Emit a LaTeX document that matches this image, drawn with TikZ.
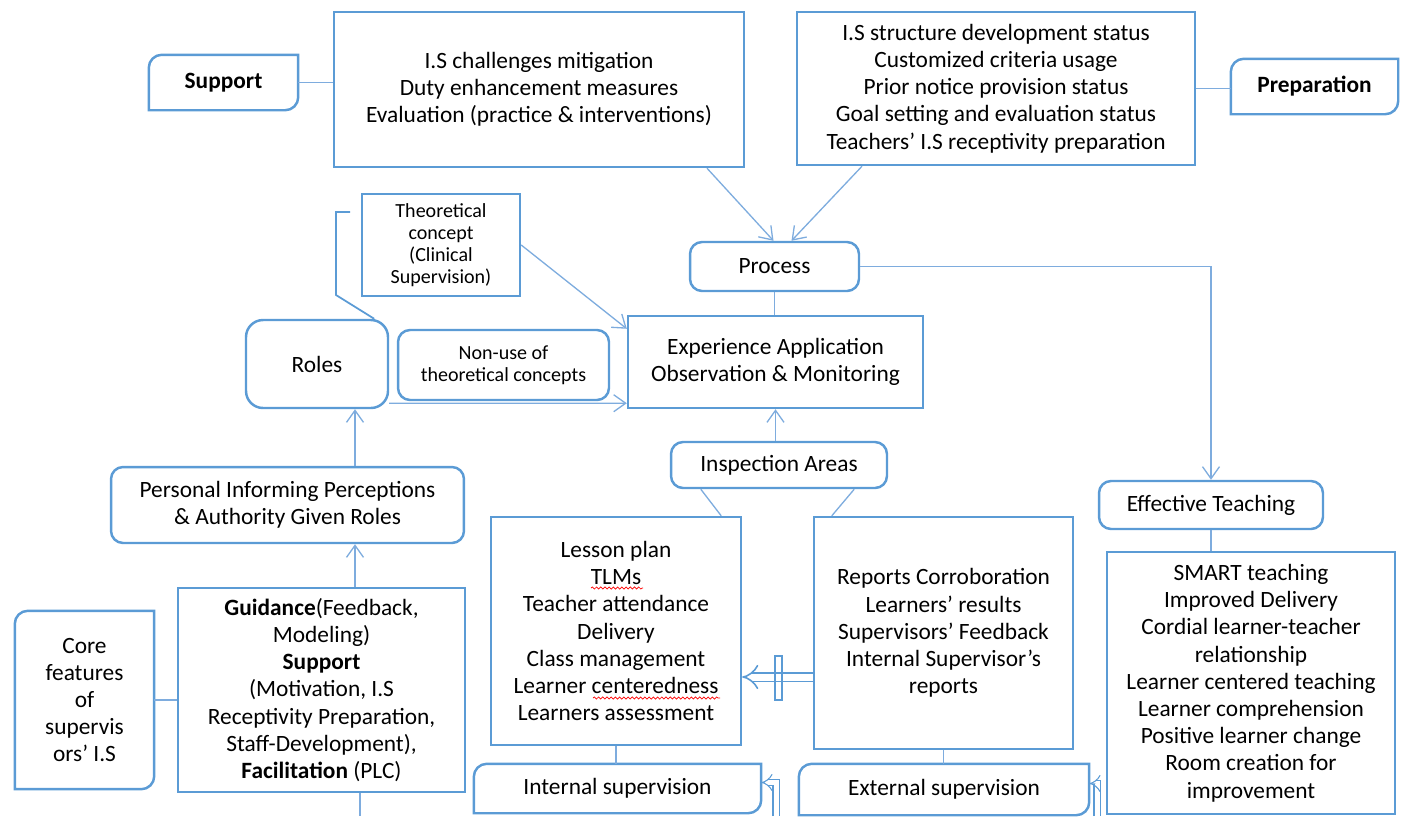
\documentclass[tikz,border=0pt]{standalone}
\usepackage{fontspec}
\setmainfont{Carlito}
\usetikzlibrary{arrows.meta,calc,decorations.pathmorphing}

\definecolor{wordblue}{RGB}{91,155,213}
\definecolor{linkblue}{RGB}{126,172,222}

\tikzset{
    sqbox/.style={draw=wordblue, line width=1.4pt, align=center, inner sep=0pt,
        font=\fontsize{13.3}{15.5}\selectfont},
    rbox/.style={sqbox, rounded corners=0.24cm},
    dbox/.style={sqbox, draw=none},
    small/.style={font=\fontsize{11.4}{12.6}\selectfont},
    frame/.style={draw=wordblue, line width=1.4pt},
    link/.style={draw=linkblue, line width=0.75pt},
    arr/.style={link, -{Straight Barb[length=0.24cm,width=0.34cm]}},
    hollow/.style={draw=wordblue, line width=0.6pt, double=white,
        double distance=0.1cm, -{Implies}},
    spell/.style={draw=red, line width=0.4pt, decorate,
        decoration={snake, amplitude=0.6pt, segment length=2.4pt}}
}

\begin{document}
\begin{tikzpicture}[x=0.02cm, y=-0.02cm]
\newdimen\Rnd
\Rnd=0.26cm
    \useasboundingbox (0,0) rectangle (1403,816);

    % top row
    \node[dbox, minimum width=2.94cm, minimum height=1.06cm, font=\fontsize{13.3}{15.5}\selectfont\bfseries]
        (support) at (223.5,82.5) {Support};
    \node[sqbox, minimum width=8.2cm, minimum height=3.1cm] (mitig) at (539,89.5)
        {I.S challenges mitigation\\ Duty enhancement measures\\ Evaluation (practice \& interventions)};
    \node[sqbox, minimum width=7.96cm, minimum height=3.06cm] (struct) at (996,88.5)
        {I.S structure development status\\ Customized criteria usage\\ Prior notice provision status\\
         Goal setting and evaluation status\\ Teachers’ I.S receptivity preparation};
    \node[dbox, minimum width=3.3cm, minimum height=1.06cm, font=\fontsize{13.3}{15.5}\selectfont\bfseries]
        (prep) at (1314.5,86.5) {Preparation};

    % middle
    \node[rbox, minimum width=3.38cm, minimum height=0.98cm] (process) at (774.5,266.5) {Process};
    \node[sqbox, small, minimum width=3.16cm, minimum height=2.04cm] (theory) at (441,245)
        {Theoretical\\ concept\\ (Clinical\\ Supervision)};
    \node[rbox, rounded corners=0.34cm, minimum width=2.84cm, minimum height=1.76cm] (roles) at (317,364) {Roles};
    \node[rbox, small, minimum width=4.22cm, minimum height=1.4cm] (nonuse) at (503.5,365)
        {Non-use of\\ theoretical concepts};
    \node[sqbox, minimum width=5.9cm, minimum height=1.84cm] (exper) at (775.5,362)
        {Experience Application\\ Observation \& Monitoring};
    \node[rbox, minimum width=4.32cm, minimum height=0.92cm] (inspect) at (779,465) {Inspection Areas};

    % inspection areas
    \node[sqbox, minimum width=5.0cm, minimum height=4.56cm] (lesson) at (616,631)
        {Lesson plan\\ TLMs\\ Teacher attendance\\ Delivery\\ Class management\\
         Learner centeredness\\ Learners assessment};
    \node[sqbox, minimum width=5.18cm, minimum height=4.64cm] (reports) at (943.5,633)
        {Reports Corroboration\\ Learners’ results\\ Supervisors’ Feedback\\
         Internal Supervisor’s\\ reports};
    \node[dbox, minimum width=5.7cm, minimum height=0.94cm] (internal) at (617.5,788.5) {Internal supervision};
    \node[dbox, minimum width=5.76cm, minimum height=0.98cm] (external) at (944,789.5) {External supervision};

    % left column
    \node[rbox, minimum width=7.06cm, minimum height=1.52cm] (personal) at (287.5,505)
        {Personal Informing Perceptions\\ \& Authority Given Roles};
    \node[sqbox, minimum width=5.74cm, minimum height=4.08cm] (guidance) at (321.5,690)
        {\textbf{Guidance}(Feedback,\\ Modeling)\\ \textbf{Support}\\ (Motivation, I.S\\
         Receptivity Preparation,\\ Staff-Development),\\ \textbf{Facilitation} (PLC)};
    \node[dbox, minimum width=2.74cm, minimum height=3.52cm] (core) at (84.5,700)
        {Core\\ features\\ of\\ supervis\\ ors’ I.S};

    % right column
    \node[rbox, minimum width=4.48cm, minimum height=0.96cm] (effective) at (1211,505) {Effective Teaching};
    \node[sqbox, minimum width=5.76cm, minimum height=5.24cm] (smart) at (1251,683)
        {SMART teaching\\ Improved Delivery\\ Cordial learner-teacher\\ relationship\\
         Learner centered teaching\\ Learner comprehension\\ Positive learner change\\
         Room creation for\\ improvement};

    % boxes with two round corners
    \foreach \n in {support,prep,core,internal,external} {
        \draw[frame] (\n.north east) -- ([xshift=\Rnd]\n.north west)
            arc[start angle=90, end angle=180, radius=\Rnd] -- (\n.south west)
            -- ([xshift=-\Rnd]\n.south east)
            arc[start angle=270, end angle=360, radius=\Rnd] -- cycle;
    }

    % connectors
    \draw[link] (support.east) -- (support.east -| mitig.west);
    \draw[link] (struct.east) -- (struct.east -| prep.west);
    \draw[arr] ($(mitig.south)+(168,0)$) -- ($(process.north)+(-1,0)$);
    \draw[arr] ($(struct.south)+(-134,0)$) -- ($(process.north)+(17,0)$);
    \draw[link] (process.south) -- (process.south |- exper.north);
    \draw[arr] (process.east) -| (effective.north);
    \draw[link] (effective.south) -- (effective.south |- smart.north);
    \draw[arr] (theory.east) -- ($(exper.north west)+(0,14)$);

    \coordinate (brtop) at (350,212);
    \draw[draw=wordblue, line width=1pt] (brtop) -- (336,212) -- (336,295) -- ($(roles.north east)+(-15,0)$);

    \draw[arr] ($(roles.south east)+(0,-6)$) -- ($(exper.south west)+(0,-6)$);
    \draw[arr] (exper.south |- inspect.north) -- (exper.south);
    \draw[link] ($(inspect.south west)+(31,0)$) -- ($(lesson.north east)+(-21,0)$);
    \draw[link] ($(inspect.south east)+(-34,0)$) -- ($(reports.north west)+(19,0)$);
    \draw[link] (lesson.south) -- (lesson.south |- internal.north);
    \draw[link] (reports.south) -- (reports.south |- external.north);

    % reports feed the lesson box
    \draw[hollow, line width=0.9pt, double distance=0.14cm] ($(reports.west)+(0,44)$) coordinate (rw) -- (rw -| lesson.east);
    \node[draw=wordblue, line width=0.9pt, minimum width=0.14cm, minimum height=0.88cm, inner sep=0pt]
        (crossbar) at (778.5,678) {};

    \coordinate (infeed) at (776,816);
    \coordinate (exfeed) at (1097,816);
    \draw[hollow] (infeed) |- ($(internal.east)+(0,-6)$);
    \draw[hollow] (exfeed) |- ($(external.east)+(0,-6)$);

    % left column
    \draw[arr] ($(guidance.north)+(33.5,0)$) coordinate (gn) -- (gn |- personal.south);
    \draw[arr] (gn |- personal.north) -- (gn |- roles.south);
    \coordinate (gfoot) at (360,816);
    \draw[link] (guidance.south -| gfoot) -- (gfoot);
    \draw[link] (core.east) -- (core.east -| guidance.west);

    % spelling marks
    \draw[spell] ($(lesson.center)+(-25,-43)$) -- ++(52,0);
    \draw[spell] ($(lesson.center)+(-23,67)$) -- ++(127,0);
\end{tikzpicture}
\end{document}
